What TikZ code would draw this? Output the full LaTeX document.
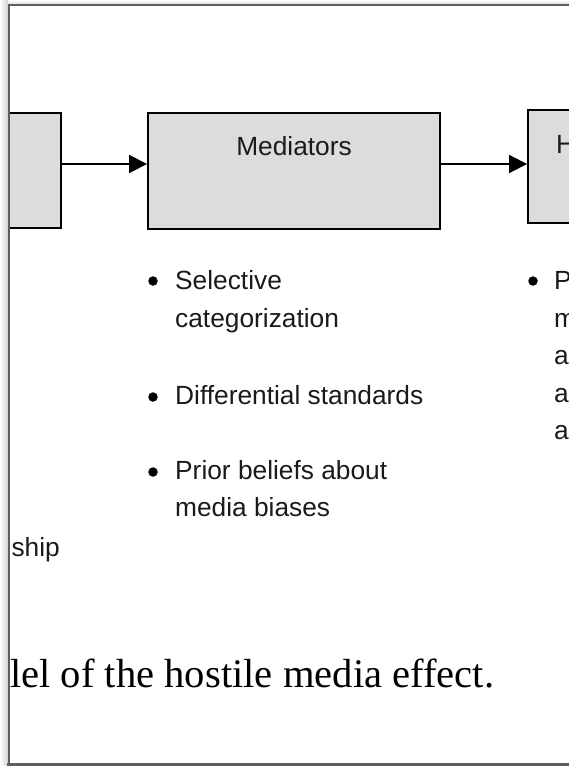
\documentclass[tikz,border=0pt]{standalone}
\usepackage{fontspec}
\setmainfont{Liberation Serif}
\newfontfamily\arialf{Liberation Sans}
\usetikzlibrary{arrows.meta}
\definecolor{boxfill}{HTML}{DCDCDC}
\definecolor{framegray}{HTML}{5E5E5E}
\definecolor{inkgray}{HTML}{1A1A1A}
\tikzset{
  blockbox/.style={draw=black, line width=1.9pt, fill=boxfill, inner sep=0pt},
  sanstext/.style={font=\arialf\fontsize{26.3}{38}\selectfont, text=inkgray, inner sep=0pt},
  listline/.style={sanstext, anchor=base west},
  dot/.style={circle, fill=black, inner sep=0pt, minimum size=9.5pt},
  flow/.style={line width=1.9pt, -{Triangle[length=18pt, width=18pt]}},
  framerule/.style={draw=framegray, line cap=rect}
}
\begin{document}
\begin{tikzpicture}[x=1pt, y=-1pt]
\useasboundingbox (0,0) rectangle (569,766);

% soft shadow round the window edge
\shade[left color=white, right color=gray!35] (0,0) rectangle (8,766);
\shade[top color=white, bottom color=gray!30] (8,0) rectangle (569,4.2);

\begin{scope}
\clip (9,5) rectangle (569,763);

% level of the horizontal connectors
\coordinate (lvl) at (0,164);

% boxes of the model
\node[blockbox, minimum width=121pt, minimum height=115pt] (L) at (0.5,170.5) {};
\node[blockbox, minimum width=292pt, minimum height=116pt] (M) at (294,171) {};
\node[blockbox, minimum width=292pt, minimum height=113pt] (R) at (674,166.5) {};

\node[sanstext, anchor=base] (Mlabel) at (294,155) {Mediators};
\node[sanstext, anchor=base west] (Rlabel) at (556,153) {H};

% connectors
\draw[flow] (L.east |- lvl) -- (M.west |- lvl);
\draw[flow] (M.east |- lvl) -- (R.west |- lvl);

% mediator list
\node[dot] (b1) at (153,281) {};
\node[listline] (t1a) at (175,289.5) {Selective};
\node[listline] (t1b) at (175,327.5) {categorization};
\node[dot] (b2) at (153,397) {};
\node[listline] (t2) at (175,404.5) {Differential standards};
\node[dot] (b3) at (153,472) {};
\node[listline] (t3a) at (175,479.5) {Prior beliefs about};
\node[listline] (t3b) at (175,516) {media biases};

% outcome list
\node[dot] (b4) at (533,281) {};
\node[listline] (t4a) at (554,289.5) {P};
\node[listline] (t4b) at (554,327) {m};
\node[listline] (t4c) at (554,364.5) {a};
\node[listline] (t4d) at (554,402) {a};
\node[listline] (t4e) at (554,439.5) {a};

% antecedent label
\node[sanstext, anchor=base east] (ante) at (60,556) {ship};

% caption
\node[anchor=base west, inner sep=0pt, font=\fontsize{40.6}{48}\selectfont] (cap) at (10,687) {lel of the hostile media effect.};
\end{scope}

% window frame
\draw[framerule, line width=2.2pt] (8.9,766) -- (8.9,5.2) -- (569,5.2);
\draw[framerule, line width=3pt] (8,764.5) -- (569,764.5);
\end{tikzpicture}
\end{document}
